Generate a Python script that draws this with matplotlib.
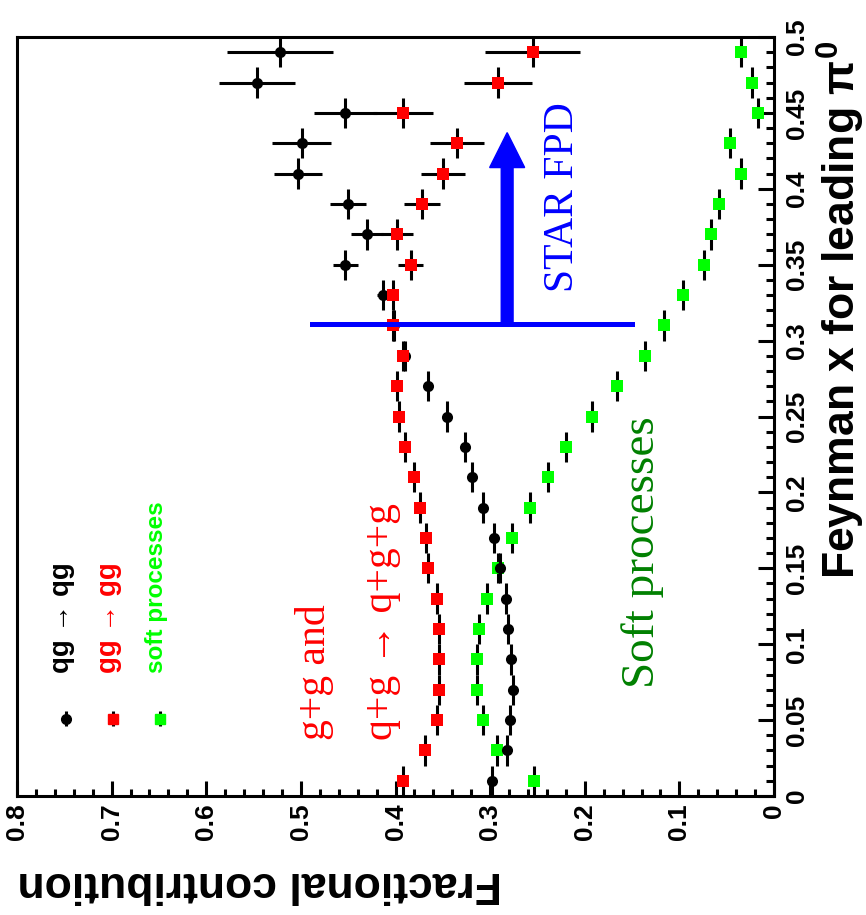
import numpy as np
import matplotlib
matplotlib.use("Agg")
import matplotlib.pyplot as plt

plt.rcParams['mathtext.fontset'] = 'custom'
plt.rcParams['mathtext.rm'] = 'Liberation Sans:bold'
plt.rcParams['mathtext.it'] = 'Liberation Sans:bold'

# leading pi0 Feynman-x bins (bin centres, half width 0.01)
xf = np.arange(0.01, 0.50, 0.02)

# fractional contributions per subprocess
frac_red = [0.392, 0.369, 0.356, 0.354, 0.354, 0.354, 0.356, 0.366, 0.368, 0.374,
            0.380, 0.390, 0.396, 0.398, 0.392, 0.403, 0.403, 0.384, 0.398, 0.372,
            0.350, 0.335, 0.392, 0.292, 0.255]
err_red = [0.002] * 16 + [0.006, 0.013, 0.017, 0.019, 0.023, 0.029, 0.032, 0.036, 0.050]

frac_blk = [0.298, 0.282, 0.279, 0.276, 0.278, 0.281, 0.283, 0.290, 0.296, 0.308,
            0.319, 0.327, 0.346, 0.366, 0.390, 0.402, 0.413, 0.453, 0.430, 0.450,
            0.503, 0.499, 0.453, 0.546, 0.522]
err_blk = [0.002] * 16 + [0.007, 0.013, 0.017, 0.019, 0.025, 0.031, 0.033, 0.040, 0.056]

frac_grn = [0.254, 0.293, 0.308, 0.314, 0.314, 0.312, 0.303, 0.292, 0.277, 0.258,
            0.239, 0.220, 0.192, 0.166, 0.136, 0.116, 0.096, 0.074, 0.067, 0.058,
            0.035, 0.046, 0.017, 0.023, 0.035]
err_grn = [0.002] * 25

legend_labels = ["qg \u2192 qg", "gg \u2192 gg", "soft processes"]
legend_colors = ["black", "red", "#00ff00"]
legend_sizes = [20, 20, 17.5]

W, H = 866, 915
fig = plt.figure(figsize=(W / 100, H / 100), dpi=100)
L, R, T, B = 17, 774, 37, 796
ax = fig.add_axes([L / W, 1 - B / H, (R - L) / W, (B - T) / H])

# the picture is turned a quarter turn: fraction runs right-to-left, x_F upwards
ax.set_xlim(0.8, 0.0)
ax.set_ylim(0.0, 0.5)

ebkw = dict(ls='none', ecolor='black', elinewidth=2.2, capsize=0, mew=0)
ax.errorbar(frac_grn, xf, xerr=err_grn, yerr=0.01, marker='s', ms=8,
            mfc='#00ff00', mec='#00ff00', zorder=3, **ebkw)
ax.errorbar(frac_blk, xf, xerr=err_blk, yerr=0.01, marker='o', ms=8,
            mfc='black', mec='black', zorder=4, **ebkw)
ax.errorbar(frac_red, xf, xerr=err_red, yerr=0.01, marker='s', ms=8,
            mfc='red', mec='red', zorder=5, **ebkw)

# FPD acceptance marker
ax.plot([0.488, 0.150], [0.311, 0.311], color='blue', lw=3.6, zorder=6)
ax.arrow(0.282, 0.311, 0, 0.126, width=0.0125, head_width=0.037,
         head_length=0.023, length_includes_head=True, color='blue', zorder=6)

serif = ['Liberation Serif', 'DejaVu Serif']
ax.text(0.486, 0.037, "g+g and", rotation=90, ha='center', va='bottom',
        color='red', fontsize=30, family=serif)
ax.text(0.415, 0.037, "q+g \u2192 q+g+g", rotation=90, ha='center', va='bottom',
        color='red', fontsize=30, family=serif)
ax.text(0.139, 0.071, "Soft processes", rotation=90, ha='center', va='bottom',
        color='#008000', fontsize=34, family=serif)
ax.text(0.223, 0.332, "STAR FPD", rotation=90, ha='center', va='bottom',
        color='blue', fontsize=30, family=serif)

# hand-made legend
leg_x = [0.748, 0.699, 0.649]
for lx, lab, col, fs in zip(leg_x, legend_labels, legend_colors, legend_sizes):
    mk = 'o' if col == 'black' else 's'
    ax.errorbar([lx], [0.051], yerr=0.005, marker=mk, ms=7, mfc=col, mec=col,
                ls='none', ecolor='black', elinewidth=2.2, capsize=0, zorder=5)
    ax.text(lx + 0.004, 0.081, lab, rotation=90, ha='center', va='bottom',
            color=col, fontsize=fs, fontweight='bold', family='Liberation Sans')

for s in ax.spines.values():
    s.set_linewidth(2.2)

ax.set_xticks(np.arange(0, 0.81, 0.1))
ax.set_xticks(np.arange(0, 0.81, 0.02), minor=True)
ax.set_xticklabels(["0", "0.1", "0.2", "0.3", "0.4", "0.5", "0.6", "0.7", "0.8"])
ax.set_yticks(np.arange(0, 0.51, 0.05))
ax.set_yticks(np.arange(0, 0.51, 0.01), minor=True)
ax.set_yticklabels(["0", "0.05", "0.1", "0.15", "0.2", "0.25", "0.3", "0.35",
                    "0.4", "0.45", "0.5"])

ax.tick_params(axis='x', which='both', direction='in', top=False, bottom=True,
               width=2.2, labelrotation=90, pad=5)
ax.tick_params(axis='x', which='major', length=11)
ax.tick_params(axis='x', which='minor', length=5)
ax.tick_params(axis='y', which='both', direction='in', left=False, right=True,
               labelleft=False, labelright=True, width=2.2, labelrotation=90, pad=8)
ax.tick_params(axis='y', which='major', length=11.5)
ax.tick_params(axis='y', which='minor', length=6)
for lab in ax.get_xticklabels() + ax.get_yticklabels():
    lab.set_family('Liberation Sans')
    lab.set_fontweight('bold')
    lab.set_fontsize(19)
for lab in ax.get_yticklabels():
    lab.set_va('center')

fig.text(841 / W, 1 - 40 / H, r"Feynman x for leading $\pi^{0}$", rotation=90,
         ha='center', va='top', fontsize=32, fontweight='bold', family='Liberation Sans')
fig.text(L / W, 1 - 883 / H, "Fractional contribution", rotation=180,
         ha='left', va='center', fontsize=32, fontweight='bold', family='Liberation Sans')

fig.savefig("out.png", dpi=100)
